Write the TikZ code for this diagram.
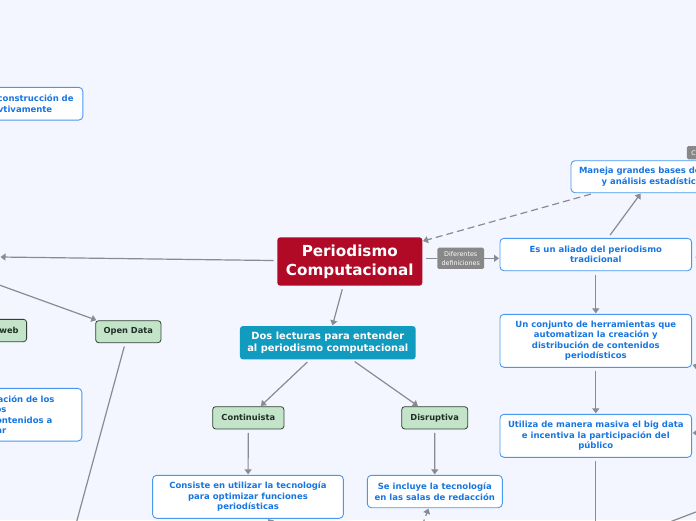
\documentclass[tikz,border=0pt]{standalone}
\usepackage{fontspec}
\setmainfont{DejaVu Sans}
\usetikzlibrary{arrows.meta}

\definecolor{bgblue}{RGB}{243,246,254}
\definecolor{linegray}{RGB}{138,138,146}
\definecolor{rootred}{RGB}{176,10,38}
\definecolor{tealfill}{RGB}{17,155,190}
\definecolor{greenfill}{RGB}{196,228,202}
\definecolor{greendraw}{RGB}{48,66,52}
\definecolor{greentext}{RGB}{32,48,36}
\definecolor{bluedraw}{RGB}{72,152,240}
\definecolor{bluetext}{RGB}{24,118,224}
\definecolor{labelgray}{RGB}{136,136,136}

\begin{document}
\begin{tikzpicture}[
    x=1pt, y=-1pt,
    line/.style={draw=linegray, line width=1.2pt, shorten <=3.5pt},
    arr/.style={line, -{Triangle[length=5pt,width=7pt]}, shorten >=0.5pt},
    dashedarr/.style={arr, dash pattern=on 7pt off 4pt},
    rootbox/.style={fill=rootred, text=white, rounded corners=3pt, minimum width=145pt, minimum height=48.4pt, inner sep=0pt, align=center, font=\fontsize{15.2}{19}\selectfont\bfseries},
    tealbox/.style={fill=tealfill, text=white, rounded corners=3pt, minimum width=175.7pt, minimum height=33.3pt, inner sep=0pt, align=center, font=\fontsize{9.9}{12}\selectfont\bfseries},
    greenbox/.style={fill=greenfill, draw=greendraw, line width=0.8pt, text=greentext, rounded corners=3pt, minimum height=22.3pt, inner sep=0pt, align=center, font=\fontsize{8.3}{10}\selectfont\bfseries},
    bluebox/.style={fill=white, draw=bluedraw, line width=0.9pt, text=bluetext, rounded corners=4pt, minimum width=191.7pt, inner sep=0pt, align=center, font=\fontsize{8.5}{10.5}\selectfont\bfseries},
    graylabel/.style={fill=labelgray, text=white, rounded corners=1.5pt, inner sep=0pt, align=center, font=\fontsize{6.4}{8.7}\selectfont},
]

% Canvas
\useasboundingbox (0,0) rectangle (696,520);
\clip (0,0) rectangle (696,520);
\fill[bgblue] (0,0) rectangle (696,520);

% Central topic
\node[rootbox] (root) at (349.8,261.5) {Periodismo\\Computacional};
\node[graylabel, minimum width=46.7pt, minimum height=21.3pt] (dif) at (460.7,258.3) {Diferentes\\definiciones};

% Left branch (cut by the frame)
\node[bluebox, anchor=east, minimum width=0pt, text width=150pt, align=right, inner xsep=9.3pt, minimum height=32.7pt] (tlbox) at (83.3,103.7) {construcción de\\vtivamente\makebox[21.3pt]{}};
\node[greenbox, anchor=east, text width=60pt, align=right, inner xsep=8pt] (web) at (27,330.5) {web};
\node[greenbox, minimum width=65.3pt, minimum height=22pt] (opendata) at (128.3,331.7) {Open Data};
\node[bluebox, anchor=east, minimum width=0pt, text width=150pt, align=right, inner xsep=27.3pt, minimum height=52.7pt] (lbox) at (82.3,414.7) {ación de los\\os\makebox[48pt]{}\\ontenidos a\makebox[2.3pt]{}\\ar\makebox[48.3pt]{}};

% Two readings
\node[tealbox] (dos) at (327.8,342.7) {Dos lecturas para entender\\al periodismo computacional};
\node[greenbox, minimum width=71.3pt] (cont) at (248.3,417.8) {Continuista};
\node[greenbox, minimum width=66pt] (disr) at (434.7,417.8) {Disruptiva};
\node[bluebox, minimum width=190.7pt, minimum height=43pt] (consiste) at (248,496.8) {Consiste en utilizar la tecnología\\para optimizar funciones\\periodísticas};
\node[bluebox, minimum width=135pt, minimum height=32.4pt] (incluye) at (434.8,491.5) {Se incluye la tecnología\\en las salas de redacción};

% Right column (definitions)
\node[bluebox, minimum width=164pt, minimum height=32pt, text width=148pt, align=left] (maneja) at (653,176.7) {Maneja grandes bases de\\\makebox[22.7pt]{}y análisis estadístic};
\node[graylabel, anchor=west, inner xsep=4.5pt, minimum height=13.3pt] (ctab) at (686.7,152.7) {C};
\node[bluebox, minimum height=32.4pt] (aliado) at (595.8,254.5) {Es un aliado del periodismo\\tradicional};
\node[bluebox, minimum height=53pt] (conjunto) at (595.8,340.8) {Un conjunto de herramientas que\\automatizan la creación y\\distribución de contenidos\\periodísticos};
\node[bluebox, minimum height=43pt] (utiliza) at (595.8,435.8) {Utiliza de manera masiva el big data\\e incentiva la participación del\\público};

% Free ends outside the frame
\coordinate (leftend) at (0,257);
\coordinate (leftsrc) at (-20,278);
\coordinate (odown) at (66.8,557.8);
\coordinate (conssrc) at (308,564);
\coordinate (inclsrc) at (413,550);
\coordinate (utildown) at (595.8,560);
\coordinate (alright) at (720,258);
\coordinate (conjsrc) at (760,382);
\coordinate (utilsrc) at (760,431);
\coordinate (brA) at (650,529.5);
\coordinate (brB) at (730,499);

% Connectors
\draw[arr] (root) -- (leftend);
\draw[arr] (leftsrc) -- (opendata);
\draw[line] (opendata) -- (odown);
\draw[arr] (root) -- (dos);
\draw[arr] (dos) -- (cont);
\draw[arr] (dos) -- (disr);
\draw[arr] (cont) -- (consiste);
\draw[arr] (disr) -- (incluye);
\draw[arr] (conssrc) -- (consiste);
\draw[dashedarr] (inclsrc) -- (incluye);
\draw[line] (root.east |- dif) -- (dif.west);
\draw[arr, shorten <=0pt] (dif.east) -- (dif -| aliado.west);
\draw[dashedarr] (maneja) -- (root);
\draw[arr] (aliado) -- (maneja);
\draw[line] (aliado) -- (alright);
\draw[arr] (aliado) -- (conjunto);
\draw[arr] (conjunto) -- (utiliza);
\draw[line] (utiliza) -- (utildown);
\draw[arr] (conjsrc) -- (conjunto);
\draw[arr] (utilsrc) -- (utiliza);
\draw[line] (brA) -- (brB);

\end{tikzpicture}
\end{document}
